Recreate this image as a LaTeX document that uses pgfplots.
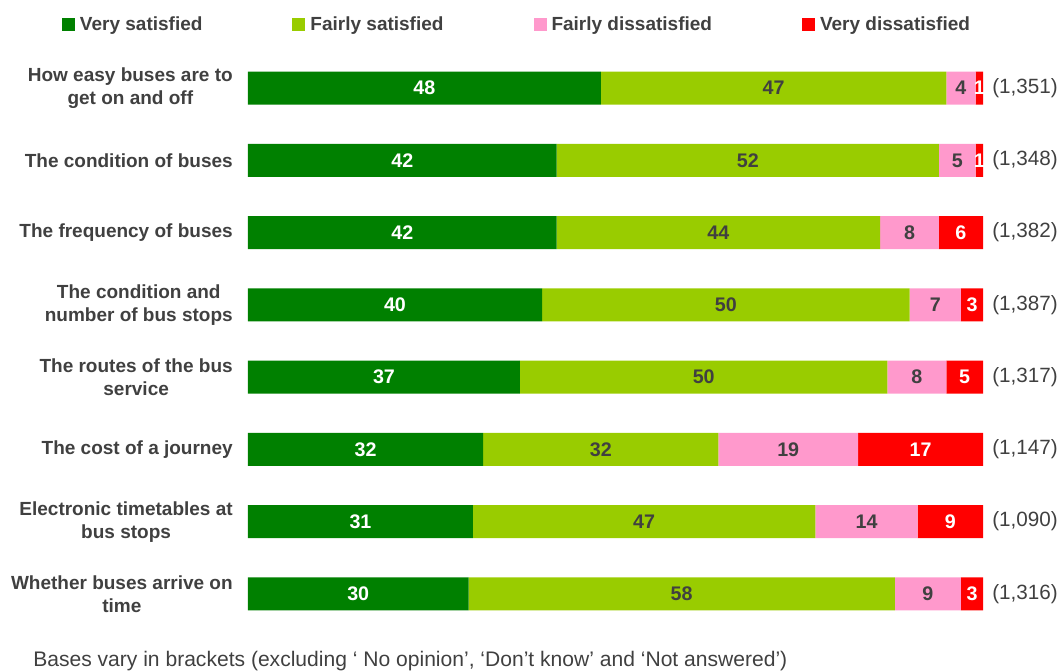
\documentclass[border=0pt]{standalone}
\usepackage{pgfplots}
\pgfplotsset{compat=1.18}
\usepackage{pgfplotstable}
\usepackage{fontspec}
\setmainfont{Liberation Sans}
\definecolor{vsat}{RGB}{0,128,0}
\definecolor{fsat}{RGB}{153,204,0}
\definecolor{fdis}{RGB}{255,153,204}
\definecolor{vdis}{RGB}{255,0,0}
\definecolor{txt}{RGB}{64,64,64}
\newcommand\lblfont{\fontsize{14.25pt}{17.25pt}\selectfont}
\newcommand\barfont{\fontsize{14.75pt}{17.25pt}\selectfont}
\newcommand\basefont{\fontsize{15.5pt}{18pt}\selectfont}
\newcommand\footfont{\fontsize{15.8pt}{18pt}\selectfont}
\pgfplotstableread{
y vs fs fd vd
0 48 47 4 1
1 42 52 5 1
2 42 44 8 6
3 40 50 7 3
4 37 50 8 5
5 32 32 19 17
6 30.6 46.6 13.9 8.9
7 30 58 9 3
}\data
\pgfplotsset{
  common/.style={
    at={(186pt,30.75pt)}, anchor=south west,
    scale only axis, width=551.25pt, height=433.5pt,
    xmin=0, xmax=100, ymin=-0.5, ymax=7.5, y dir=reverse,
    axis line style={draw=none}, tick style={draw=none},
    xtick=\empty, ytick={0,...,7},
  },
  seg/.style 2 args={fill=#1, draw=none, nodes near coords, point meta=explicit,
    nodes near coords={\pgfmathprintnumber[fixed,precision=0]{\pgfplotspointmeta}},
    every node near coord/.append style={anchor=center, text=#2, font=\barfont\bfseries}},
}
\begin{document}
\begin{tikzpicture}
\useasboundingbox (0,0) rectangle (795pt,503.25pt);
\begin{axis}[common,
  xbar stacked, bar width=24.75pt,
  yticklabels={{How easy buses are to\\get on and off},{The condition of buses},{The frequency of buses},{The condition and\\number of bus stops},{The routes of the bus\\service},{The cost of a journey},{Electronic timetables at\\bus stops},{Whether buses arrive on\\time}},
  yticklabel style={font=\lblfont\bfseries, text=txt, align=center, inner sep=0pt, xshift=-11.25pt},
  /pgf/number format/assume math mode=true,
  legend columns=4,
  legend style={at={(-0.2531,1.0476)}, anchor=west, draw=none, fill=none, inner sep=0pt, outer sep=0pt,
     font=\lblfont\bfseries, text=txt,
     nodes={inner sep=0pt},
     /tikz/every odd column/.append style={column sep=3.75pt},
     /tikz/every even column/.append style={column sep=67.5pt}},
  legend image code/.code={\fill[#1] (0pt,-4.875pt) rectangle (9.75pt,4.875pt);},
  clip=false,
]
\addplot[seg={vsat}{white}] table[x=vs, y=y, meta=vs] {\data};
\addplot[seg={fsat}{txt}] table[x=fs, y=y, meta=fs] {\data};
\addplot[seg={fdis}{txt}] table[x=fd, y=y, meta=fd] {\data};
\addplot[seg={vdis}{white}] table[x=vd, y=y, meta=vd] {\data};
\legend{Very satisfied, Fairly satisfied, Fairly dissatisfied, Very dissatisfied}
\end{axis}
\begin{axis}[common,
  yticklabel pos=right,
  yticklabels={(1,351),(1,348),(1,382),(1,387),(1,317),(1,147),(1,090),(1,316)},
  yticklabel style={font=\basefont, text=txt, anchor=west, inner sep=0pt, xshift=6.75pt},
]
\addplot[draw=none, forget plot] coordinates {(0,0) (0,7)};
\end{axis}
\node[anchor=base west, inner sep=0pt, text=txt, font=\footfont] at (24.75pt,3pt) {Bases vary in brackets (excluding ‘ No opinion’, ‘Don’t know’ and ‘Not answered’)};
\end{tikzpicture}
\end{document}
